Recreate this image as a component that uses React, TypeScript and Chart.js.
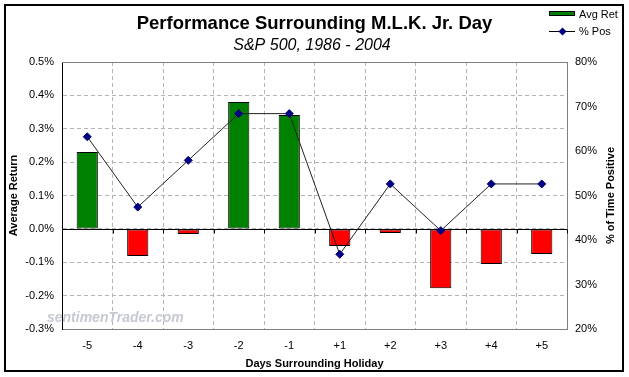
import React, { useEffect, useRef } from "react";
import { Chart, registerables } from "chart.js";

Chart.register(...registerables);

const categories = ["-5", "-4", "-3", "-2", "-1", "+1", "+2", "+3", "+4", "+5"];
const avgRet = [0.23, -0.081, -0.015, 0.38, 0.341, -0.051, -0.012, -0.178, -0.105, -0.075];
const pctPos = [63.2, 47.4, 57.9, 68.4, 68.4, 36.8, 52.6, 42.1, 52.6, 52.6];
const leftMin = -0.3;
const leftMax = 0.5;
const rightMin = 20;
const rightMax = 80;

const titleText = "Performance Surrounding M.L.K. Jr. Day";
const subtitleText = "S&P 500, 1986 - 2004";
const xTitle = "Days Surrounding Holiday";
const leftTitle = "Average Return";
const rightTitle = "% of Time Positive";
const legendLabels = ["Avg Ret", "% Pos"];
const watermark = "sentimenTrader.com";

const FONT = "'Liberation Sans', Arial, sans-serif";

const decorPlugin = {
  id: "decor",
  beforeDraw(chart: any) {
    const ctx = chart.ctx;
    ctx.save();
    ctx.fillStyle = "#ffffff";
    ctx.fillRect(0, 0, chart.width, chart.height);
    ctx.restore();
  },
  beforeDatasetsDraw(chart: any) {
    const ctx = chart.ctx;
    const a = chart.chartArea;
    const y = chart.scales.y;
    ctx.save();
    // watermark
    ctx.font = `italic bold 14px ${FONT}`;
    ctx.fillStyle = "#c6c9d1";
    ctx.textAlign = "left";
    ctx.textBaseline = "middle";
    ctx.fillText(watermark, 47, 318);
    // plot frame top/right
    ctx.strokeStyle = "#808080";
    ctx.lineWidth = 1;
    ctx.beginPath();
    ctx.moveTo(a.left, Math.round(a.top) + 0.5);
    ctx.lineTo(a.right, Math.round(a.top) + 0.5);
    ctx.moveTo(Math.round(a.right) + 0.5, a.top);
    ctx.lineTo(Math.round(a.right) + 0.5, a.bottom);
    ctx.stroke();
    // zero line with category tick marks
    const y0 = Math.round(y.getPixelForValue(0)) + 0.5;
    ctx.strokeStyle = "#000000";
    ctx.beginPath();
    ctx.moveTo(a.left, y0);
    ctx.lineTo(a.right, y0);
    const n = categories.length;
    const w = (a.right - a.left) / n;
    for (let i = 0; i <= n; i++) {
      const xx = Math.round(a.left + i * w) + 0.5;
      ctx.moveTo(xx, y0);
      ctx.lineTo(xx, y0 + 4);
    }
    ctx.stroke();
    ctx.restore();
  },
  afterDraw(chart: any) {
    const ctx = chart.ctx;
    ctx.save();
    // title
    ctx.fillStyle = "#000000";
    ctx.textAlign = "center";
    ctx.textBaseline = "alphabetic";
    ctx.font = `bold 18.5px ${FONT}`;
    ctx.fillText(titleText, 314.5, 28.5);
    ctx.font = `italic 16px ${FONT}`;
    ctx.fillText(subtitleText, 312, 50);
    // right axis title
    ctx.save();
    ctx.translate(611, chart.chartArea.top + (chart.chartArea.bottom - chart.chartArea.top) / 2);
    ctx.rotate(-Math.PI / 2);
    ctx.font = `bold 11px ${FONT}`;
    ctx.textBaseline = "middle";
    ctx.textAlign = "center";
    ctx.fillText(rightTitle, 0, 0);
    ctx.restore();
    // legend
    ctx.fillStyle = "#008000";
    ctx.fillRect(549, 12, 26, 4);
    ctx.strokeStyle = "#000000";
    ctx.lineWidth = 1;
    ctx.strokeRect(549.5, 11.5, 25, 4);
    ctx.beginPath();
    ctx.moveTo(549, 31.5);
    ctx.lineTo(575, 31.5);
    ctx.strokeStyle = "#000000";
    ctx.stroke();
    ctx.fillStyle = "#000080";
    ctx.beginPath();
    ctx.moveTo(562.5, 27.5);
    ctx.lineTo(566.5, 31.5);
    ctx.lineTo(562.5, 35.5);
    ctx.lineTo(558.5, 31.5);
    ctx.closePath();
    ctx.fill();
    ctx.fillStyle = "#000000";
    ctx.font = `11px ${FONT}`;
    ctx.textAlign = "left";
    ctx.textBaseline = "middle";
    ctx.fillText(legendLabels[0], 579, 14.5);
    ctx.fillText(legendLabels[1], 579, 32);
    // outer frame
    ctx.strokeStyle = "#000000";
    ctx.lineWidth = 2;
    ctx.strokeRect(5, 5, 618, 366);
    ctx.restore();
  },
};

export default function App() {
  const ref = useRef<HTMLCanvasElement | null>(null);
  useEffect(() => {
    if (!ref.current) return;
    const chart = new Chart(ref.current, {
      type: "bar",
      data: {
        labels: categories,
        datasets: [
          {
            type: "line",
            label: legendLabels[1],
            data: pctPos,
            yAxisID: "y1",
            borderColor: "#222222",
            borderWidth: 1,
            pointStyle: "rectRot",
            pointRadius: 4,
            pointBackgroundColor: "#000080",
            pointBorderColor: "#000080",
            pointBorderWidth: 1,
            tension: 0,
            order: 0,
          } as any,
          {
            type: "bar",
            label: legendLabels[0],
            data: avgRet,
            yAxisID: "y",
            backgroundColor: avgRet.map((v) => (v >= 0 ? "#008000" : "#ff0000")),
            borderColor: "#000000",
            borderWidth: 1,
            borderSkipped: false,
            categoryPercentage: 1,
            barPercentage: 0.42,
            order: 1,
          } as any,
        ],
      },
      options: {
        animation: false,
        responsive: false,
        maintainAspectRatio: false,
        layout: { padding: { top: 62, left: 0, right: 0, bottom: 0 } },
        plugins: {
          legend: { display: false },
          title: { display: false },
          tooltip: { enabled: false },
        },
        scales: {
          x: {
            offset: true,
            grid: { display: true, offset: true, color: "#b4b4b4", drawTicks: false, lineWidth: 1 },
            border: { display: true, color: "#808080", dash: [4, 3] },
            ticks: { color: "#000000", font: { family: FONT, size: 11 }, padding: 10 },
            title: {
              display: true,
              text: xTitle,
              color: "#000000",
              font: { family: FONT, size: 11, weight: "bold" },
              padding: { top: 0, bottom: 6 },
            },
            afterFit: (s: any) => {
              s.height = 48;
            },
          },
          y: {
            position: "left",
            min: leftMin,
            max: leftMax,
            ticks: {
              stepSize: 0.1,
              color: "#000000",
              font: { family: FONT, size: 11 },
              padding: 8,
              callback: (v: any) => Number(v).toFixed(1) + "%",
            },
            grid: { color: "#b4b4b4", drawTicks: false, lineWidth: 1 },
            border: { display: true, color: "#000000", dash: [4, 3] },
            title: {
              display: true,
              text: leftTitle,
              color: "#000000",
              font: { family: FONT, size: 11, weight: "bold" },
              padding: { top: 7, bottom: 0 },
            },
            afterFit: (s: any) => {
              s.width = 62;
            },
          },
          y1: {
            position: "right",
            min: rightMin,
            max: rightMax,
            ticks: {
              stepSize: 10,
              color: "#000000",
              font: { family: FONT, size: 11 },
              padding: 8,
              callback: (v: any) => v + "%",
            },
            grid: { display: false, drawTicks: false },
            border: { display: true, color: "#808080" },
            afterFit: (s: any) => {
              s.width = 62;
            },
          },
        },
      },
      plugins: [decorPlugin],
    });
    return () => chart.destroy();
  }, []);
  return (
    <div style={{ position: "fixed", left: 0, top: 0, width: 629, height: 377 }}>
      <canvas ref={ref} width={629} height={377} style={{ display: "block" }} />
    </div>
  );
}
